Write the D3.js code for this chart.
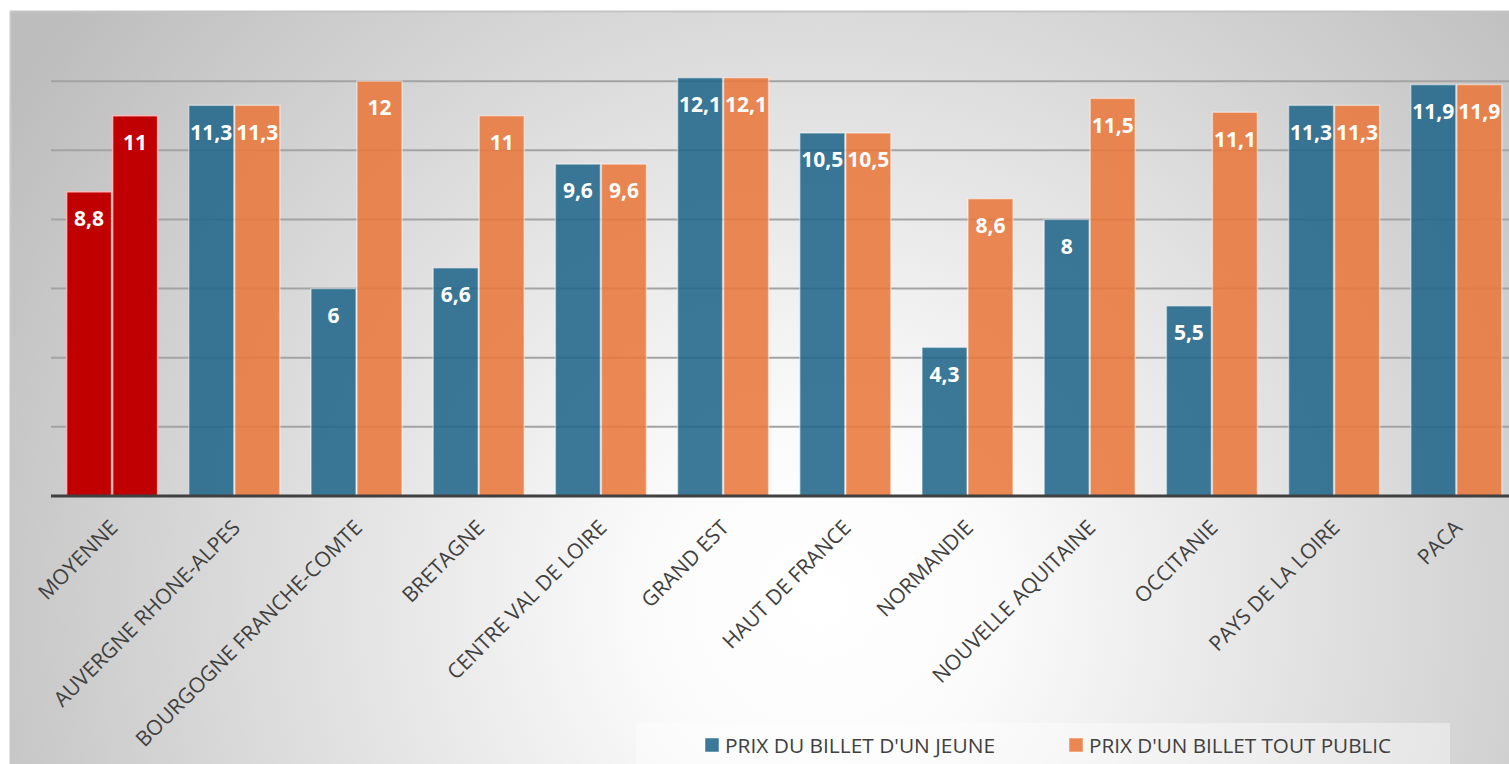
<!DOCTYPE html>
<html lang="fr">
<head>
<meta charset="utf-8">
<title>Prix du billet par région</title>
<script src="https://cdn.jsdelivr.net/npm/d3@7"></script>
<style>
  html, body { margin: 0; padding: 0; background: #ffffff; }
  svg { display: block; }
</style>
</head>
<body>
<svg id="chart" width="1509" height="764"></svg>
<script>
// Régions (la première catégorie est la moyenne nationale)
const categories = [
  "MOYENNE", "AUVERGNE RHONE-ALPES", "BOURGOGNE FRANCHE-COMTE", "BRETAGNE",
  "CENTRE VAL DE LOIRE", "GRAND EST", "HAUT DE FRANCE", "NORMANDIE",
  "NOUVELLE AQUITAINE", "OCCITANIE", "PAYS DE LA LOIRE", "PACA"
];
// Prix du billet d'un jeune (€)
const prixJeune = [8.8, 11.3, 6, 6.6, 9.6, 12.1, 10.5, 4.3, 8, 5.5, 11.3, 11.9];
// Prix d'un billet tout public (€)
const prixToutPublic = [11, 11.3, 12, 11, 9.6, 12.1, 10.5, 8.6, 11.5, 11.1, 11.3, 11.9];
const seriesNames = ["PRIX DU BILLET D'UN JEUNE", "PRIX D'UN BILLET TOUT PUBLIC"];
const gridTicks = [2, 4, 6, 8, 10, 12, 14];

const W = 1509, H = 764;
const svg = d3.select("#chart");
const defs = svg.append("defs");

// Fond : dégradé radial clair au centre, gris sur les bords
const bg = defs.append("radialGradient")
  .attr("id", "bgGrad").attr("gradientUnits", "userSpaceOnUse")
  .attr("cx", 820).attr("cy", 600).attr("r", 950);
bg.append("stop").attr("offset", "0%").attr("stop-color", "#ffffff");
bg.append("stop").attr("offset", "18%").attr("stop-color", "#fbfbfb");
bg.append("stop").attr("offset", "100%").attr("stop-color", "#bdbdbd");

const frame = { x: 10, y: 11 };
svg.append("rect").attr("x", frame.x).attr("y", frame.y)
  .attr("width", W - frame.x).attr("height", H - frame.y)
  .attr("fill", "url(#bgGrad)");
svg.append("line").attr("x1", frame.x).attr("x2", W).attr("y1", frame.y + 0.5).attr("y2", frame.y + 0.5)
  .attr("stroke", "#c4c4c4").attr("stroke-width", 2);
svg.append("line").attr("x1", frame.x + 0.5).attr("x2", frame.x + 0.5).attr("y1", frame.y).attr("y2", H)
  .attr("stroke", "#c8c8c8").attr("stroke-width", 2);

const plot = { left: 51, right: 1517.4, top: 12, bottom: 496 };

const y = d3.scaleLinear().domain([0, 14]).range([plot.bottom, plot.top]);
const x = d3.scaleBand().domain(categories)
  .range([plot.left, plot.right])
  .paddingInner(0.247).paddingOuter(0.1235);
const xSub = d3.scaleBand().domain([0, 1]).range([0, x.bandwidth()]).padding(0);

// Quadrillage horizontal
svg.append("g").selectAll("line")
  .data(gridTicks.filter(t => t < 14))
  .join("line")
  .attr("x1", plot.left).attr("x2", W)
  .attr("y1", d => y(d)).attr("y2", d => y(d))
  .attr("stroke", "#a3a3a3").attr("stroke-width", 2);

const rows = categories.map((c, i) => ({ cat: c, idx: i, values: [prixJeune[i], prixToutPublic[i]] }));
const fillFor = (row, s) => row.idx === 0 ? "#c00000" : (s === 0 ? "#21668a" : "#e9773b");
const opacityFor = row => row.idx === 0 ? 1 : 0.88;

const groups = svg.append("g").selectAll("g")
  .data(rows).join("g")
  .attr("transform", d => `translate(${x(d.cat)},0)`);

groups.selectAll("rect")
  .data(d => d.values.map((v, s) => ({ v, s, row: d })))
  .join("rect")
  .attr("x", d => xSub(d.s) + 0.5)
  .attr("width", xSub.bandwidth() - 1)
  .attr("y", d => y(d.v))
  .attr("height", d => y(0) - y(d.v))
  .attr("fill", d => fillFor(d.row, d.s))
  .attr("fill-opacity", d => opacityFor(d.row))
  .attr("stroke", d => d.row.idx === 0 ? "rgba(255,190,190,0.9)" : "rgba(255,255,255,0.45)")
  .attr("stroke-width", 1.5);

// Étiquettes de valeur (virgule décimale)
const fmt = v => String(v).replace(".", ",");
groups.selectAll("text.val")
  .data(d => d.values.map((v, s) => ({ v, s })))
  .join("text")
  .attr("class", "val")
  .attr("x", d => xSub(d.s) + xSub.bandwidth() / 2)
  .attr("y", d => y(d.v) + 27)
  .attr("dy", "0.35em")
  .attr("text-anchor", "middle")
  .attr("font-family", "'Open Sans', sans-serif")
  .attr("font-weight", 700)
  .attr("font-size", 21)
  .attr("fill", "#ffffff")
  .text(d => fmt(d.v));

// Axe des catégories
svg.append("line")
  .attr("x1", plot.left).attr("x2", W)
  .attr("y1", plot.bottom).attr("y2", plot.bottom)
  .attr("stroke", "#404040").attr("stroke-width", 3);

const xAxis = d3.axisBottom(x).tickSize(0).tickPadding(0);
const axisG = svg.append("g").attr("transform", `translate(0,${plot.bottom})`).call(xAxis);
axisG.select(".domain").remove();
axisG.selectAll(".tick text")
  .attr("font-family", "'Open Sans', sans-serif")
  .attr("font-size", 21)
  .attr("fill", "#404040")
  .attr("text-anchor", "end")
  .attr("dy", null)
  .attr("y", null)
  .attr("transform", "translate(7,33) rotate(-45)");

// Légende
const legend = svg.append("g");
legend.append("rect").attr("x", 636).attr("y", 723).attr("width", 814).attr("height", 41)
  .attr("fill", "rgba(255,255,255,0.4)");
const legendItems = [
  { name: seriesNames[0], color: "#21668a", x: 705, tx: 725, len: 270 },
  { name: seriesNames[1], color: "#e9773b", x: 1069, tx: 1089, len: 302 }
];
const li = legend.selectAll("g").data(legendItems).join("g");
li.append("rect")
  .attr("x", d => d.x).attr("y", 738).attr("width", 14).attr("height", 14)
  .attr("fill", d => d.color).attr("fill-opacity", 0.88)
  .attr("stroke", "rgba(255,255,255,0.5)").attr("stroke-width", 1);
li.append("text")
  .attr("x", d => d.tx).attr("y", 746).attr("dy", "0.35em")
  .attr("font-family", "'Open Sans', sans-serif")
  .attr("font-size", 20)
  .attr("fill", "#404040")
  .attr("textLength", d => d.len)
  .attr("lengthAdjust", "spacingAndGlyphs")
  .text(d => d.name);
</script>
</body>
</html>
